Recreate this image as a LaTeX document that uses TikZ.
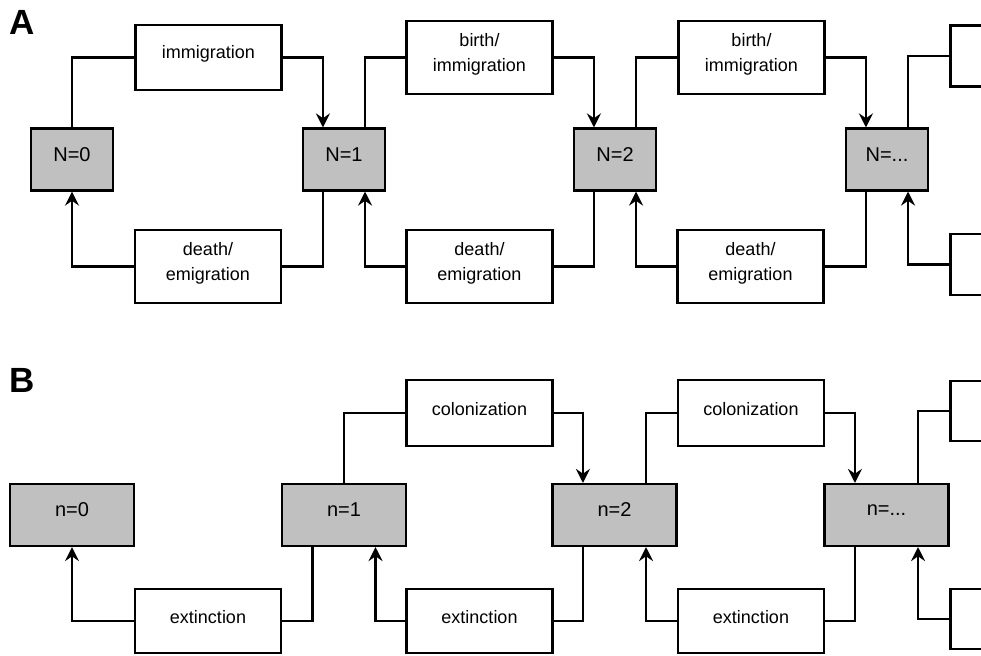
\documentclass[tikz,border=0pt]{standalone}
\usepackage{fontspec}
\setmainfont{Liberation Sans}
\usetikzlibrary{arrows.meta,calc,positioning}
\definecolor{stategray}{HTML}{C0C0C0}

\begin{document}
\begin{tikzpicture}[x=0.5pt, y=-0.5pt, line width=1.1pt,
        font=\fontsize{9}{12.5}\selectfont,
        state/.style={draw, fill=stategray, minimum height=31pt, inner sep=0pt, text depth=5pt, font=\fontsize{10}{12}\selectfont},
        flow/.style={draw, fill=white, minimum width=73pt, inner sep=0pt, align=center},
        arr/.style={-{Stealth[length=7pt,width=7pt,inset=2.4pt]}},
        panel/.style={inner sep=0pt, font=\fontsize{17.5}{19}\selectfont\bfseries}]
    \useasboundingbox (0,0) rectangle (981,655);
    \clip (0,0) rectangle (981,655);
    % A: individuals
    \node[panel] (lblA) at (22,22) {A};
    \foreach \i/\x/\name in {0/72/N=0,1/344/N=1,2/615/N=2,3/887/{N=...}}{
        \node[state, minimum width=41pt] (sa\i) at (\x,159.5) {\name};
        \coordinate (sa\i-tl) at ($(sa\i.north west)!.25!(sa\i.north east)$);
        \coordinate (sa\i-tr) at ($(sa\i.north west)!.75!(sa\i.north east)$);
        \coordinate (sa\i-bl) at ($(sa\i.south west)!.25!(sa\i.south east)$);
        \coordinate (sa\i-br) at ($(sa\i.south west)!.75!(sa\i.south east)$);
    }
    \node[flow, minimum height=32.5pt, text depth=5.5pt] (ta1) at (208.5,57.5) {immigration};
    \foreach \j/\x in {2/479.5,3/751.5}
        \node[flow, minimum height=36.5pt, text depth=5.5pt] (ta\j) at (\x,57.5) {birth/\\immigration};
    \node[flow, minimum height=30.5pt] (ta4) at (1023.5,56) {};
    \foreach \j/\x in {1/208,2/479.5,3/750.5}
        \node[flow, minimum height=36.5pt, text depth=5pt] (ba\j) at (\x,266.5) {death/\\emigration};
    \node[flow, minimum height=30.5pt] (ba4) at (1023.5,264.5) {};
    \draw (sa0.north) |- (ta1.west);
    \foreach \i/\j in {1/2,2/3,3/4}
        \draw (sa\i-tr) |- (ta\j.west);
    \foreach \j in {1,2,3}
        \draw[arr] (ta\j.east) -| (sa\j-tl);
    \draw[arr] (ba1.west) -| (sa0.south);
    \foreach \j/\k in {1/2,2/3,3/4}{
        \draw (sa\j-bl) |- (ba\j.east);
        \draw[arr] (ba\k.west) -| (sa\j-br);
    }
    % B: islands
    \node[panel] (lblB) at (22,380) {B};
    \foreach \i/\x/\name in {0/72/n=0,1/344/n=1,2/614.5/n=2,3/886.5/{n=...}}{
        \node[state, minimum width=62pt] (sb\i) at (\x,515) {\name};
        \coordinate (sb\i-tl) at ($(sb\i.north west)!.25!(sb\i.north east)$);
        \coordinate (sb\i-tr) at ($(sb\i.north west)!.75!(sb\i.north east)$);
        \coordinate (sb\i-bl) at ($(sb\i.south west)!.25!(sb\i.south east)$);
        \coordinate (sb\i-br) at ($(sb\i.south west)!.75!(sb\i.south east)$);
    }
    \foreach \j/\x in {2/479.5,3/751}
        \node[flow, minimum height=33pt, text depth=4.4pt] (tb\j) at (\x,413) {colonization};
    \node[flow, minimum height=30pt] (tb4) at (1023.5,411) {};
    \foreach \j/\x in {1/208,2/479.5,3/751}
        \node[flow, minimum height=32pt, text depth=4pt] (bb\j) at (\x,621) {extinction};
    \node[flow, minimum height=30pt] (bb4) at (1023.5,619) {};
    \draw (sb1.north) |- (tb2.west);
    \foreach \i/\j in {2/3,3/4}
        \draw (sb\i-tr) |- (tb\j.west);
    \foreach \j in {2,3}
        \draw[arr] (tb\j.east) -| (sb\j-tl);
    \draw[arr] (bb1.west) -| (sb0.south);
    \foreach \j/\k in {1/2,2/3,3/4}{
        \draw (sb\j-bl) |- (bb\j.east);
        \draw[arr] (bb\k.west) -| (sb\j-br);
    }
\end{tikzpicture}
\end{document}
